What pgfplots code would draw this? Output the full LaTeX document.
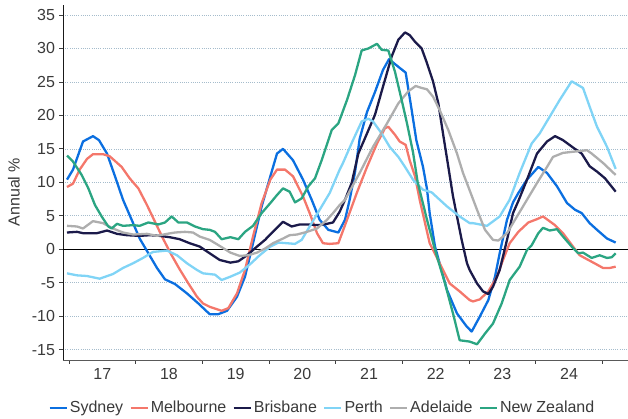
\documentclass[border=0pt]{standalone}
\usepackage{fontspec}
\setmainfont{Liberation Sans}
\usepackage{pgfplots}
\usepackage{pgfplotstable}
\pgfplotsset{compat=1.18}

\definecolor{sydney}{HTML}{0B6FE0}
\definecolor{melbourne}{HTML}{F4776B}
\definecolor{brisbane}{HTML}{1B1A4A}
\definecolor{perth}{HTML}{80D4F6}
\definecolor{adelaide}{HTML}{AEAEAE}
\definecolor{nz}{HTML}{2BA582}
\definecolor{gridc}{RGB}{165,188,204}
\definecolor{txt}{HTML}{3A3A3A}

% Annual % change, x in decimal years
\pgfplotstableread{
x y
2016.97 10.4
2017.06 11.9
2017.21 16.1
2017.36 16.9
2017.45 16.3
2017.57 14.3
2017.69 10.9
2017.81 7.4
2017.94 4.4
2018.06 1.6
2018.19 -0.6
2018.32 -2.8
2018.44 -4.5
2018.59 -5.2
2018.77 -6.6
2018.94 -8.1
2019.11 -9.7
2019.24 -9.7
2019.37 -9.2
2019.52 -7.1
2019.64 -4.1
2019.76 0.9
2019.89 6.4
2020.02 10.9
2020.12 14.3
2020.21 15.0
2020.36 13.3
2020.51 10.4
2020.64 7.4
2020.76 4.4
2020.89 2.9
2021.04 2.5
2021.14 4.4
2021.21 7.4
2021.29 11.5
2021.36 16.5
2021.47 20.5
2021.59 23.5
2021.71 26.8
2021.80 28.4
2021.96 27.1
2022.05 26.4
2022.14 20.8
2022.21 16.3
2022.31 12.3
2022.37 9.0
2022.41 5.4
2022.49 0.4
2022.67 -6.1
2022.82 -9.6
2022.97 -11.6
2023.04 -12.3
2023.16 -10.1
2023.29 -7.6
2023.39 -4.1
2023.46 -0.6
2023.57 4.4
2023.66 7.0
2023.74 8.4
2023.87 10.4
2024.04 12.3
2024.17 11.4
2024.32 9.4
2024.47 6.9
2024.59 5.9
2024.69 5.4
2024.81 3.9
2024.92 2.9
2025.07 1.6
2025.20 1.0
}\sydneydata

\pgfplotstableread{
x y
2016.97 9.3
2017.06 9.8
2017.16 11.9
2017.27 13.5
2017.36 14.2
2017.51 14.2
2017.61 13.9
2017.79 12.3
2017.91 10.6
2018.04 9.1
2018.17 6.6
2018.29 4.1
2018.41 1.6
2018.54 -0.9
2018.66 -3.0
2018.79 -5.1
2018.92 -7.1
2019.01 -8.1
2019.11 -8.6
2019.29 -9.2
2019.39 -8.8
2019.52 -6.6
2019.64 -3.1
2019.76 1.9
2019.89 6.9
2020.02 10.4
2020.12 11.9
2020.24 11.9
2020.36 10.9
2020.51 7.9
2020.61 5.4
2020.72 2.4
2020.81 0.9
2020.91 0.8
2021.04 0.9
2021.17 4.4
2021.32 8.5
2021.47 12.3
2021.62 15.8
2021.74 18.1
2021.79 18.3
2021.89 17.1
2021.96 16.1
2022.05 15.6
2022.11 13.3
2022.19 10.9
2022.26 7.4
2022.41 0.9
2022.56 -2.1
2022.71 -5.1
2022.86 -6.3
2023.01 -7.6
2023.06 -7.8
2023.16 -7.5
2023.29 -6.3
2023.42 -4.1
2023.51 -1.6
2023.61 0.9
2023.74 2.6
2023.89 4.0
2024.02 4.5
2024.11 4.9
2024.29 3.6
2024.41 2.4
2024.56 0.4
2024.66 -0.9
2024.79 -1.6
2024.92 -2.3
2025.01 -2.8
2025.11 -2.8
2025.20 -2.6
}\melbournedata

\pgfplotstableread{
x y
2016.97 2.5
2017.12 2.6
2017.21 2.4
2017.42 2.4
2017.57 2.8
2017.72 2.3
2017.87 2.1
2018.06 2.0
2018.21 2.1
2018.36 2.0
2018.51 1.8
2018.66 1.5
2018.81 0.9
2018.96 0.4
2019.11 -0.6
2019.26 -1.6
2019.42 -2.0
2019.54 -1.8
2019.67 -0.9
2019.82 0.4
2019.94 1.4
2020.06 2.6
2020.21 4.1
2020.34 3.4
2020.46 3.7
2020.59 3.7
2020.74 3.6
2020.87 3.8
2020.96 4.0
2021.06 5.6
2021.14 7.4
2021.24 9.9
2021.34 14.3
2021.47 17.3
2021.59 20.1
2021.71 24.3
2021.84 28.8
2021.94 31.3
2022.04 32.4
2022.11 32.0
2022.19 31.0
2022.29 30.0
2022.37 27.8
2022.46 25.1
2022.54 21.8
2022.61 17.3
2022.69 12.3
2022.76 7.9
2022.82 4.9
2022.89 1.4
2022.97 -2.1
2023.01 -3.1
2023.12 -5.1
2023.21 -6.3
2023.29 -6.7
2023.36 -5.6
2023.46 -3.1
2023.57 1.4
2023.66 5.4
2023.74 7.2
2023.87 10.4
2024.02 14.3
2024.17 16.1
2024.29 16.9
2024.41 16.3
2024.56 15.2
2024.69 14.3
2024.81 12.4
2024.92 11.6
2025.04 10.6
2025.20 8.6
}\brisbanedata

\pgfplotstableread{
x y
2016.97 -3.6
2017.12 -3.9
2017.27 -4.0
2017.46 -4.4
2017.66 -3.7
2017.81 -2.8
2017.96 -2.1
2018.11 -1.3
2018.26 -0.4
2018.47 -0.2
2018.62 -0.9
2018.77 -2.1
2018.92 -3.1
2019.01 -3.6
2019.19 -3.8
2019.29 -4.6
2019.42 -4.1
2019.56 -3.5
2019.71 -2.3
2019.86 -0.9
2020.02 0.4
2020.14 1.0
2020.27 0.9
2020.39 0.8
2020.49 1.4
2020.61 3.4
2020.76 5.9
2020.91 8.4
2021.06 11.9
2021.11 12.9
2021.26 16.3
2021.39 19.1
2021.49 19.5
2021.56 19.1
2021.69 17.3
2021.81 15.3
2021.94 13.8
2022.04 12.3
2022.16 10.4
2022.31 8.9
2022.44 8.5
2022.56 7.4
2022.67 6.4
2022.86 4.9
2023.01 3.9
2023.06 3.9
2023.27 3.5
2023.46 4.9
2023.61 7.4
2023.76 11.4
2023.94 15.8
2024.06 17.3
2024.21 19.8
2024.36 22.3
2024.54 25.1
2024.71 24.1
2024.81 21.3
2024.92 18.3
2025.07 15.3
2025.20 12.0
}\perthdata

\pgfplotstableread{
x y
2016.97 3.5
2017.12 3.4
2017.21 3.1
2017.36 4.2
2017.51 3.9
2017.66 3.1
2017.81 2.5
2017.96 2.2
2018.17 2.3
2018.32 2.0
2018.47 2.3
2018.59 2.5
2018.74 2.6
2018.86 2.5
2018.96 1.9
2019.11 1.4
2019.26 0.5
2019.42 -0.5
2019.56 -1.0
2019.69 -0.9
2019.82 -0.5
2019.94 0.1
2020.06 0.9
2020.21 1.6
2020.31 2.1
2020.42 2.2
2020.57 2.6
2020.72 3.1
2020.87 4.4
2020.96 5.4
2021.06 6.6
2021.14 7.4
2021.36 11.4
2021.56 15.3
2021.77 18.8
2021.94 21.8
2022.09 23.6
2022.20 24.4
2022.29 24.1
2022.37 23.9
2022.46 22.8
2022.56 20.8
2022.69 17.8
2022.82 14.3
2022.91 11.4
2023.01 8.8
2023.12 5.9
2023.24 2.9
2023.36 1.4
2023.44 1.3
2023.57 2.4
2023.72 4.9
2023.87 7.4
2024.02 9.9
2024.17 12.3
2024.26 13.8
2024.41 14.4
2024.59 14.6
2024.77 14.8
2024.84 14.3
2025.01 12.9
2025.20 11.1
}\adelaidedata

\pgfplotstableread{
x y
2016.97 14.0
2017.06 13.1
2017.19 11.1
2017.29 9.1
2017.39 6.6
2017.49 4.9
2017.59 3.4
2017.64 3.1
2017.72 3.8
2017.81 3.5
2017.96 3.6
2018.06 3.5
2018.19 4.0
2018.34 3.7
2018.44 4.0
2018.54 4.9
2018.64 4.0
2018.77 4.0
2018.89 3.4
2019.01 3.0
2019.11 2.9
2019.19 2.6
2019.29 1.5
2019.42 1.8
2019.54 1.5
2019.64 2.6
2019.76 3.5
2019.89 5.4
2020.02 6.9
2020.12 8.1
2020.21 9.1
2020.31 8.6
2020.39 7.0
2020.49 7.6
2020.59 9.4
2020.69 10.6
2020.79 13.3
2020.89 16.3
2020.94 17.8
2021.04 18.8
2021.17 22.3
2021.29 26.0
2021.39 29.7
2021.49 30.0
2021.62 30.7
2021.69 29.8
2021.79 29.7
2021.89 26.5
2021.99 22.3
2022.07 18.8
2022.16 14.5
2022.23 10.0
2022.37 4.4
2022.49 -0.1
2022.64 -5.1
2022.76 -9.6
2022.86 -13.6
2023.01 -13.8
2023.12 -14.2
2023.24 -12.6
2023.36 -11.1
2023.49 -8.1
2023.61 -4.6
2023.76 -2.6
2023.87 -0.1
2023.94 0.6
2024.04 2.4
2024.11 3.2
2024.21 2.8
2024.32 3.0
2024.41 1.9
2024.54 0.4
2024.64 -0.6
2024.71 -0.5
2024.84 -1.3
2024.96 -0.9
2025.07 -1.3
2025.14 -1.2
2025.20 -0.6
}\nzdata

\begin{document}
\begin{tikzpicture}
\useasboundingbox (0,0) rectangle (628pt,419pt);
\begin{axis}[
  at={(63pt,59pt)}, anchor=south west,
  scale only axis, width=565pt, height=355pt,
  xmin=2016.91, xmax=2025.385,
  ymin=-16.55, ymax=36.5,
  axis x line*=bottom, axis y line*=left,
  x axis line style={-, color=black!65, line width=0.9pt},
  y axis line style={-, color=black!90, line width=0.9pt},
  tick align=outside,
  major tick length=4pt,
  tick style={color=black!75, line width=0.8pt},
  xtick={2017,...,2025},
  xticklabels={},
  extra x ticks={2017.5,2018.5,2019.5,2020.5,2021.5,2022.5,2023.5,2024.5},
  extra x tick labels={17,18,19,20,21,22,23,24},
  extra x tick style={tick style={draw=none}},
  ytick={-15,-10,-5,5,10,15,20,25,30,35},
  extra y ticks={0},
  extra y tick style={grid style={solid, black, line width=0.8pt}},
  ymajorgrids,
  grid style={gridc, line width=0.7pt, dash pattern=on 0.9pt off 1.3pt},
  /pgf/number format/assume math mode=true,
  ticklabel style={font=\fontsize{16}{18}\selectfont, color=txt},
  yticklabel style={xshift=-0.5pt},
  xticklabel style={yshift=-1pt},
  ylabel={Annual \%},
  ylabel style={at={(axis description cs:-0.087,0.473)}, anchor=center,
    font=\fontsize{16}{18}\selectfont, color=txt},
  no markers,
  every axis plot/.append style={line width=2.3pt, line join=round},
  legend columns=6,
  legend style={at={(axis description cs:0.459,-0.135)}, anchor=center,
    draw=none, fill=none, font=\fontsize{16}{18}\selectfont, text=txt,
    nodes={inner xsep=2pt},
    /tikz/every even column/.append style={column sep=4pt}},
  legend image code/.code={\draw[#1, line width=2.5pt] (0pt,0pt) -- (17pt,0pt);},
]
\addplot[sydney] table {\sydneydata};
\addlegendentry{Sydney}
\addplot[melbourne] table {\melbournedata};
\addlegendentry{Melbourne}
\addplot[brisbane] table {\brisbanedata};
\addlegendentry{Brisbane}
\addplot[perth] table {\perthdata};
\addlegendentry{Perth}
\addplot[adelaide] table {\adelaidedata};
\addlegendentry{Adelaide}
\addplot[nz] table {\nzdata};
\addlegendentry{New Zealand}
\end{axis}
\end{tikzpicture}
\end{document}
